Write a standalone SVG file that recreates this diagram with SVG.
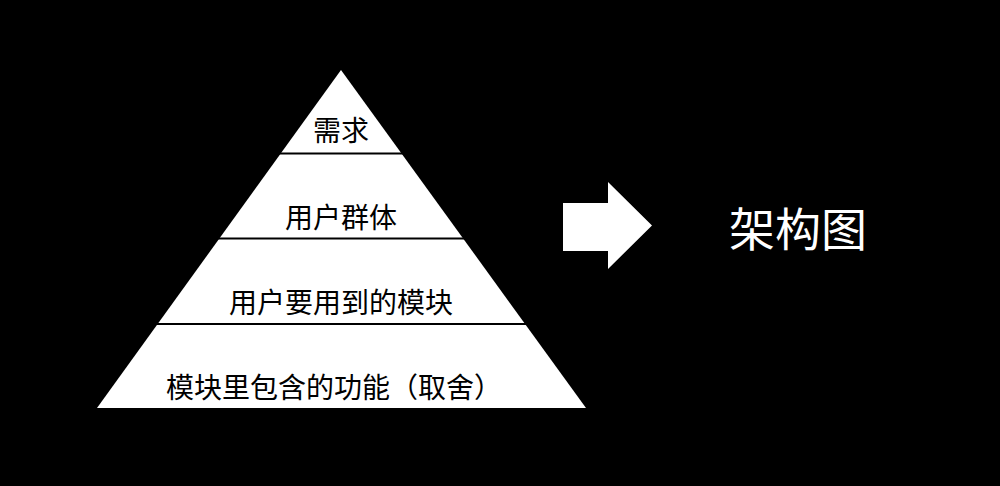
<svg xmlns="http://www.w3.org/2000/svg" width="1000" height="486" viewBox="0 0 1000 486">
<style>
.lbl{font-family:"Noto Sans CJK SC","Microsoft YaHei",sans-serif;font-size:28px;fill:#000;text-anchor:middle}
.div{stroke:#000;stroke-width:2}
</style>
<rect x="0" y="0" width="1000" height="486" fill="#000"/>
<g id="pyramid">
<polygon points="341,70 97,408 586,408" fill="#fff"/>
<line class="div" x1="270" y1="153.5" x2="412" y2="153.5"/>
<line class="div" x1="200" y1="238.5" x2="480" y2="238.5"/>
<line class="div" x1="140" y1="324" x2="545" y2="324"/>
</g>
<g id="layer1"><text class="lbl" x="341" y="141">需求</text></g>
<g id="layer2"><text class="lbl" x="341" y="228">用户群体</text></g>
<g id="layer3"><text class="lbl" x="341" y="313">用户要用到的模块</text></g>
<g id="layer4"><text class="lbl" x="334" y="398">模块里包含的功能（取舍）</text></g>
<g id="connectors">
<polygon points="563,203 608,203 608,182 652,225.5 608,269 608,251 563,251" fill="#fff"/>
</g>
<g id="result"><text x="798" y="246" style="font-family:'Noto Sans CJK SC','Microsoft YaHei',sans-serif;font-size:46px;fill:#fff;text-anchor:middle">架构图</text></g>
</svg>
